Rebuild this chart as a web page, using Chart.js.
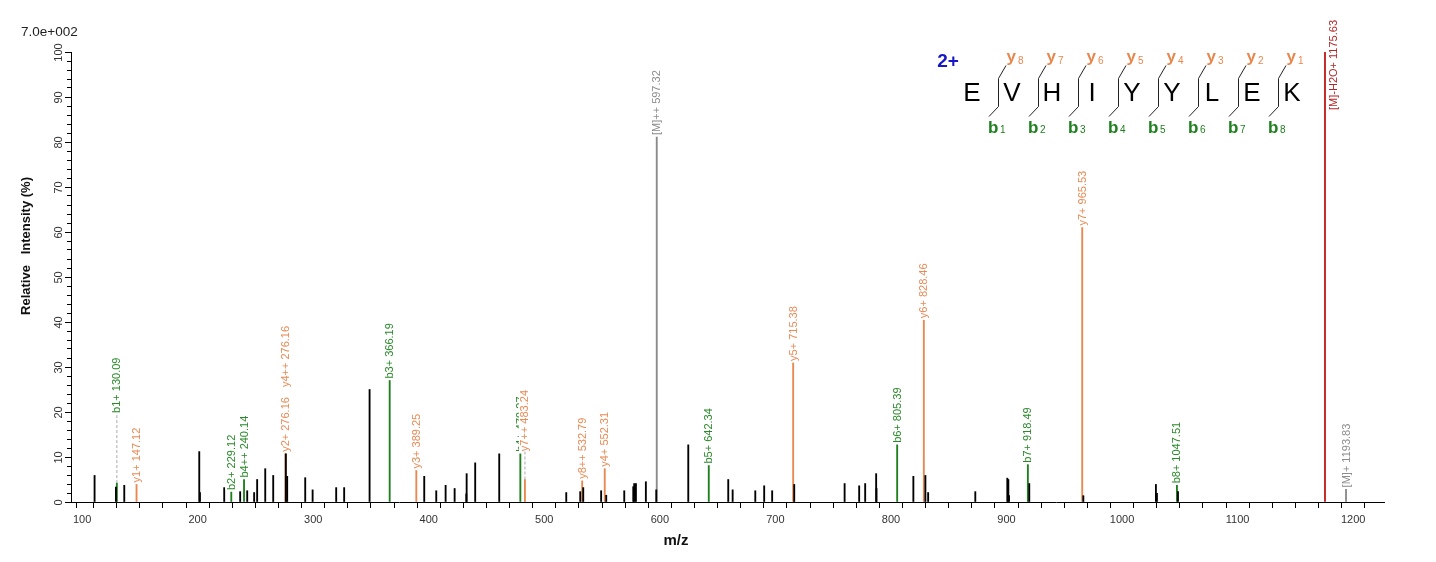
<!DOCTYPE html>
<html lang="en">
<head>
    <meta charset="UTF-8">
    <title>MS/MS spectrum - EVHIYYLEK</title>
    <script src="https://cdn.jsdelivr.net/npm/chart.js"></script>
    <style>
        html, body {
            margin: 0;
            padding: 0;
            background: #ffffff;
        }
        .wrap {
            width: 1436px;
            height: 562px;
            position: relative;
        }
    </style>
</head>
<body>
    <div class="wrap">
        <canvas id="spectrum" width="1436" height="562"></canvas>
    </div>
    <script>
        // unannotated peaks (m/z, relative intensity %)
        const peakMz = [110.8, 129.3, 136.5, 201.4, 202.0, 223.0, 236.8, 242.9, 248.9, 251.5,
            258.5, 265.4, 276.3, 277.5, 293.1, 299.5, 319.9, 326.8, 348.8, 396.1,
            406.5, 414.6, 422.4, 432.5, 432.8, 440.2, 461.0, 519.0, 531.1, 533.7,
            549.2, 553.6, 569.2, 577.0, 577.8, 579.3, 587.9, 596.9, 624.6, 659.2,
            663.0, 682.6, 690.3, 697.2, 716.3, 759.9, 772.5, 777.7, 787.2, 787.5,
            819.4, 829.8, 832.2, 873.0, 900.7, 901.6, 902.2, 919.7, 966.5, 1029.3,
            1030.2, 1048.4];
        const peakInt = [5.9, 3.3, 3.7, 11.2, 2.1, 3.2, 2.3, 2.5, 2.1, 5.0,
            7.4, 5.9, 10.7, 5.7, 5.4, 2.7, 3.2, 3.2, 25.0, 5.7,
            2.5, 3.7, 3.0, 1.8, 6.3, 8.7, 10.7, 2.1, 2.3, 3.2,
            2.5, 1.5, 2.5, 3.4, 4.1, 4.1, 4.5, 2.7, 12.7, 5.0,
            2.7, 2.5, 3.6, 2.5, 3.9, 4.1, 3.6, 4.1, 6.3, 3.0,
            5.7, 5.9, 2.1, 2.3, 5.3, 5.0, 1.4, 4.1, 1.4, 3.9,
            1.9, 2.3];

        // b ions
        const bIonMz = [130.09, 229.12, 240.14, 366.19, 479.27, 642.34, 805.39, 918.49, 1047.51];
        const bIonInt = [4.2, 2.2, 5.0, 27.0, 10.7, 8.1, 12.7, 8.3, 3.7];
        const bIonLabels = ['b1+ 130.09', 'b2+ 229.12', 'b4++ 240.14', 'b3+ 366.19', 'b4+ 479.27',
            'b5+ 642.34', 'b6+ 805.39', 'b7+ 918.49', 'b8+ 1047.51'];

        // y ions
        const yIonMz = [147.12, 276.16, 276.16, 389.25, 483.24, 532.79, 552.31, 715.38, 828.46, 965.53];
        const yIonInt = [3.9, 10.7, 10.7, 7.0, 5.0, 4.7, 7.4, 30.9, 40.4, 61.0];
        const yIonLabels = ['y1+ 147.12', 'y2+ 276.16', 'y4++ 276.16', 'y3+ 389.25', 'y7++ 483.24',
            'y8++ 532.79', 'y4+ 552.31', 'y5+ 715.38', 'y6+ 828.46', 'y7+ 965.53'];

        // precursor ions
        const precMz = [597.32, 1193.83];
        const precInt = [81.1, 2.8];
        const precLabels = ['[M]++ 597.32', '[M]+ 1193.83'];

        const waterLossMz = [1175.63];
        const waterLossInt = [100];
        const waterLossLabels = ['[M]-H2O+ 1175.63'];

        const sequence = ['E', 'V', 'H', 'I', 'Y', 'Y', 'L', 'E', 'K'];
        const charge = '2+';
        const yTickLabels = [0, 10, 20, 30, 40, 50, 60, 70, 80, 90, 100];
        const baseIntensity = '7.0e+002';

        const FONT = '"Liberation Sans", Arial, sans-serif';
        const GREEN = '#1d7f1d';
        const ORANGE = '#e8884f';

        function toPoints(mz, ints) {
            return mz.map((m, i) => ({ x: m, y: ints[i] }));
        }

        // labels above peaks, rotated
        const ionLabels = {
            id: 'ionLabels',
            afterDatasetsDraw(chart, args, opts) {
                const { ctx, scales: { x, y } } = chart;
                const placed = [];
                ctx.save();
                ctx.font = '11px ' + FONT;
                opts.groups.forEach(g => {
                    g.mz.forEach((mz, i) => {
                        const text = g.labels[i];
                        const px = x.getPixelForValue(mz);
                        const top = y.getPixelForValue(g.int[i]);
                        let start = top - 2;
                        const lift = opts.lifts[text];
                        if (lift !== undefined) start = y.getPixelForValue(lift);
                        const prev = placed.find(p => Math.abs(p.x - px) < 2);
                        if (prev) start = prev.top - 10;
                        const w = ctx.measureText(text).width;
                        let lx = px;
                        if (start - w < 20) {
                            start = 20 + w;
                            lx = px + 8;
                        }
                        if (lift !== undefined) {
                            ctx.save();
                            ctx.strokeStyle = '#aaaaaa';
                            ctx.setLineDash([3, 2]);
                            ctx.beginPath();
                            ctx.moveTo(px, top);
                            ctx.lineTo(px, start);
                            ctx.stroke();
                            ctx.restore();
                        }
                        ctx.save();
                        ctx.translate(lx + 0.5, start);
                        ctx.rotate(-Math.PI / 2);
                        ctx.fillStyle = '#ffffff';
                        ctx.fillRect(0, -6.5, w + 1, 13);
                        ctx.fillStyle = g.color;
                        ctx.textBaseline = 'middle';
                        ctx.fillText(text, 0, 0);
                        ctx.restore();
                        placed.push({ x: px, top: start - w });
                    });
                });
                ctx.restore();
            }
        };

        // axis texts, y labels and the sequence map
        const decorations = {
            id: 'decorations',
            afterDraw(chart) {
                const { ctx, chartArea, scales: { y } } = chart;
                ctx.save();
                // major y ticks and rotated labels
                ctx.strokeStyle = '#000';
                ctx.lineWidth = 1;
                ctx.fillStyle = '#333';
                ctx.font = '11px ' + FONT;
                yTickLabels.forEach(v => {
                    const py = Math.round(y.getPixelForValue(v)) + 0.5;
                    ctx.beginPath();
                    ctx.moveTo(chartArea.left - 6, py);
                    ctx.lineTo(chartArea.left, py);
                    ctx.stroke();
                    ctx.save();
                    ctx.translate(62, py);
                    ctx.rotate(-Math.PI / 2);
                    ctx.textAlign = 'center';
                    ctx.fillText(String(v), 0, 0);
                    ctx.restore();
                });

                // y title
                ctx.save();
                ctx.fillStyle = '#111';
                ctx.font = 'bold 13px ' + FONT;
                ctx.translate(30, 246);
                ctx.rotate(-Math.PI / 2);
                ctx.textAlign = 'center';
                ctx.fillText('Relative   Intensity (%)', 0, 0);
                ctx.restore();

                // x title
                ctx.fillStyle = '#111';
                ctx.font = 'bold 15px ' + FONT;
                ctx.textAlign = 'center';
                ctx.fillText('m/z', 676, 545);

                // base intensity
                ctx.fillStyle = '#222';
                ctx.font = '13.5px ' + FONT;
                ctx.textAlign = 'left';
                ctx.fillText(baseIntensity, 21, 36);

                // charge state
                ctx.fillStyle = '#1717c8';
                ctx.font = 'bold 19px ' + FONT;
                ctx.textAlign = 'center';
                ctx.fillText(charge, 948, 67);

                // residues
                ctx.fillStyle = '#000';
                ctx.font = '26px ' + FONT;
                sequence.forEach((aa, i) => {
                    ctx.fillText(aa, 972 + 40 * i, 100.5);
                });

                // fragment brackets with b / y labels
                const n = sequence.length;
                for (let k = 0; k < n - 1; k++) {
                    const xb = 998 + 40 * k + 0.5;
                    ctx.strokeStyle = '#222';
                    ctx.lineWidth = 1;
                    ctx.beginPath();
                    ctx.moveTo(xb + 7.5, 65.5);
                    ctx.lineTo(xb, 78.5);
                    ctx.lineTo(xb, 106.5);
                    ctx.lineTo(xb - 9.5, 116.5);
                    ctx.stroke();

                    ctx.textAlign = 'left';
                    ctx.fillStyle = ORANGE;
                    ctx.font = 'bold 17px ' + FONT;
                    ctx.fillText('y', xb + 8, 62);
                    ctx.font = '10px ' + FONT;
                    ctx.fillText(String(n - 1 - k), xb + 19.5, 64);

                    ctx.fillStyle = GREEN;
                    ctx.font = 'bold 17px ' + FONT;
                    ctx.fillText('b', xb - 10.5, 132.5);
                    ctx.font = '10px ' + FONT;
                    ctx.fillText(String(k + 1), xb + 1.5, 133);
                }
                ctx.restore();
            }
        };

        const barStyle = { barThickness: 1.2, borderWidth: 0, grouped: false };

        new Chart(document.getElementById('spectrum').getContext('2d'), {
            type: 'bar',
            data: {
                datasets: [
                    Object.assign({ label: 'peaks', data: toPoints(peakMz, peakInt), backgroundColor: '#000', order: 0 }, barStyle),
                    Object.assign({ label: 'b ions', data: toPoints(bIonMz, bIonInt), backgroundColor: GREEN, order: 1 }, barStyle),
                    Object.assign({ label: 'y ions', data: toPoints(yIonMz, yIonInt), backgroundColor: ORANGE, order: 1 }, barStyle),
                    Object.assign({ label: 'precursor', data: toPoints(precMz, precInt), backgroundColor: '#8a8a8a', order: 1 }, barStyle),
                    Object.assign({ label: 'water loss', data: toPoints(waterLossMz, waterLossInt), backgroundColor: '#c01f1f', order: 1 }, barStyle)
                ]
            },
            options: {
                responsive: false,
                animation: false,
                layout: { padding: { top: 52, right: 52, left: 0, bottom: 0 } },
                scales: {
                    x: {
                        type: 'linear',
                        min: 90.4,
                        max: 1226.7,
                        offset: false,
                        afterFit: s => { s.height = 60; },
                        afterBuildTicks: s => {
                            const ticks = [{ value: s.min }];
                            for (let v = 100; v <= s.max; v += 20) ticks.push({ value: v });
                            s.ticks = ticks;
                        },
                        border: { display: true, color: '#000', width: 1 },
                        grid: { drawOnChartArea: false, drawTicks: true, tickLength: 6, color: '#000' },
                        ticks: {
                            autoSkip: false,
                            maxRotation: 0,
                            padding: 5,
                            color: '#333',
                            font: { family: FONT, size: 11 },
                            callback: v => (v % 100 === 0 ? v : '')
                        }
                    },
                    y: {
                        min: 0,
                        max: 100,
                        afterFit: s => { s.width = 71; },
                        border: { display: true, color: '#000', width: 1 },
                        grid: { drawOnChartArea: false, drawTicks: true, tickLength: 4, color: '#000' },
                        ticks: { stepSize: 2, display: false }
                    }
                },
                plugins: {
                    legend: { display: false },
                    tooltip: { enabled: false },
                    ionLabels: {
                        groups: [
                            { mz: bIonMz, int: bIonInt, labels: bIonLabels, color: '#2a8a2a' },
                            { mz: yIonMz, int: yIonInt, labels: yIonLabels, color: '#ea8a55' },
                            { mz: precMz, int: precInt, labels: precLabels, color: '#8c8c8c' },
                            { mz: waterLossMz, int: waterLossInt, labels: waterLossLabels, color: '#b02828' }
                        ],
                        lifts: { 'b1+ 130.09': 19.8, 'y7++ 483.24': 11.3 }
                    }
                }
            },
            plugins: [ionLabels, decorations]
        });
    </script>
</body>
</html>
